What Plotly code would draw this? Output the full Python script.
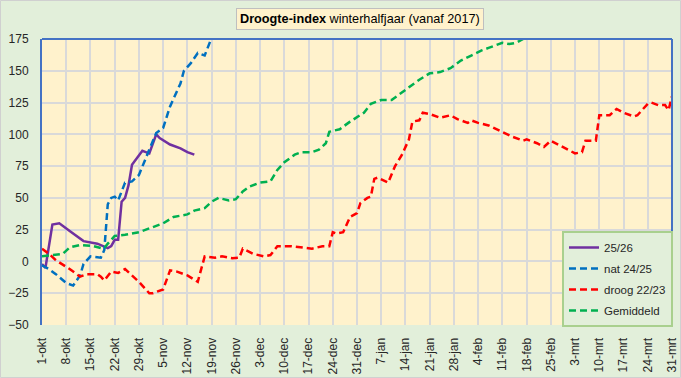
import datetime as dt
import plotly.graph_objects as go

# ---------------- data (day offset from 1 October, value) ----------------
BASE = dt.date(2023, 10, 1)  # leap-year season (29 Feb) so ticks fall on 3-mrt etc.

purple_days = [0, 1, 3, 5, 8, 12, 16, 18, 19, 20, 21, 22, 23, 24, 25, 26, 28, 29, 30, 31, 33, 34, 37, 40, 42, 44]
purple_vals = [-2, -5, 29, 30, 24, 16, 14, 12, 10.5, 12, 17, 17, 47, 50, 60, 76, 84, 87, 86, 85, 100, 97, 92, 89, 86, 84]

blue_days = [0, 2, 4, 7, 9, 11, 12, 14, 17, 18, 19, 20, 21, 22, 24, 26, 28, 30, 31, 33, 35, 37, 38, 40, 41, 43, 45, 47, 49, 50]
blue_vals = [-3, -6, -10, -17, -19, -11, -2, 4, 3, 9, 45, 50, 51, 48, 62, 63, 68, 82, 88, 101, 105, 122, 128, 140, 150, 156, 164, 162, 176, 185]

red_days = [0, 2, 4, 8, 11, 13, 16, 17, 18, 20, 22, 24, 28, 31, 32, 35, 37, 39, 42, 45, 47, 50, 52, 55, 57, 58,
            61, 64, 66, 68, 72, 75, 78, 81, 83, 84, 85, 87, 89, 91, 92, 94, 95, 96, 97, 100, 102, 104, 106, 107,
            109, 110, 112, 115, 118, 120, 123, 124, 126, 129, 133, 136, 139, 140, 143, 145, 147, 149, 152, 154,
            156, 157, 160, 161, 164, 166, 168, 171, 172, 175, 176, 178, 180, 181, 182]
red_vals = [10, 6, 1, -6, -12, -10, -10, -12, -15, -8, -9, -6, -16, -25, -25, -22, -7, -8, -11, -16, 4, 3, 4, 2.5, 3, 10,
            6, 4, 5, 12, 12, 11, 10, 12, 12, 23, 22, 23, 35, 38, 46, 50, 51, 65, 66, 62, 75, 84, 96, 110,
            111, 117, 116, 113, 115, 112, 109, 111, 109, 107, 102, 98, 95, 96, 93, 90, 95, 92, 88, 85,
            86, 95, 95, 115, 115, 120, 117, 114, 115, 124, 125, 123, 123, 119, 130]

green_days = [0, 3, 6, 8, 11, 15, 17, 18, 19, 21, 24, 28, 32, 35, 38, 42, 44, 47, 49, 51, 54, 56, 58, 60, 63, 66,
              68, 70, 73, 75, 78, 80, 82, 83, 86, 89, 93, 95, 98, 101, 103, 106, 109, 112, 115, 118, 121, 124,
              127, 129, 133, 135, 137, 139, 141]
green_vals = [4, 5, 6, 11, 13, 12, 10.5, 10.5, 14, 20, 21, 23, 27, 30, 35, 37, 40, 42, 47, 50, 48, 49, 55, 59, 62, 63,
              72, 78, 84, 86, 86, 88, 93, 102, 104, 110, 117, 124, 127, 127, 131, 137, 143, 148, 149, 152, 158, 162,
              166, 168, 172, 171, 172, 175, 178]

tick_labels = ["1-okt", "8-okt", "15-okt", "22-okt", "29-okt", "5-nov", "12-nov", "19-nov", "26-nov",
               "3-dec", "10-dec", "17-dec", "24-dec", "31-dec", "7-jan", "14-jan", "21-jan", "28-jan",
               "4-feb", "11-feb", "18-feb", "25-feb", "3-mrt", "10-mrt", "17-mrt", "24-mrt", "31-mrt"]

series = [
    ("25/26", purple_days, purple_vals, "#7030A0", "solid"),
    ("nat 24/25", blue_days, blue_vals, "#0070C0", "7px,4px"),
    ("droog 22/23", red_days, red_vals, "#FF0000", "7px,4px"),
    ("Gemiddeld", green_days, green_vals, "#00B050", "7px,4px"),
]


def to_dates(days):
    return [BASE + dt.timedelta(days=d) for d in days]


fig = go.Figure()
for i, (name, d, v, col, dash) in enumerate(series):
    fig.add_trace(go.Scatter(x=to_dates(d), y=v, name=name, mode="lines",
                             legendgroup=str(i),
                             line=dict(color=col, width=2.5, dash=dash)))

tick_vals = [BASE + dt.timedelta(days=7 * k) for k in range(len(tick_labels))]

W, H = 681, 378
ML, MR, MT, MB = 42, 9, 39, 53
pw, ph = W - ML - MR, H - MT - MB

font = "Liberation Sans, Arial, sans-serif"

fig.update_layout(
    width=W, height=H,
    margin=dict(l=ML, r=MR, t=MT, b=MB, autoexpand=False),
    paper_bgcolor="#E2EFDA",
    plot_bgcolor="#FFF2CC",
    font=dict(family=font, size=12, color="#262626"),
    showlegend=True,
    legend=dict(x=(562 - ML) / pw, y=(H - MB - 231) / ph, xanchor="left", yanchor="top",
                bgcolor="#E2EFDA", bordercolor="#A9D08E", borderwidth=2,
                font=dict(size=11.5, color="#262626"), itemwidth=30, tracegroupgap=2),
    xaxis=dict(type="date", automargin=False,
               range=[BASE - dt.timedelta(hours=2), BASE + dt.timedelta(days=182, hours=8)],
               tickvals=tick_vals, ticktext=tick_labels, tickangle=-90,
               showgrid=True, gridcolor="#D9D9D9", gridwidth=1.5,
               showline=False, zeroline=False, ticks="outside", ticklen=7, tickcolor="rgba(0,0,0,0)",
               tickfont=dict(size=12, color="#262626")),
    yaxis=dict(range=[-50, 175], dtick=25, tick0=0, automargin=False,
               showgrid=True, gridcolor="#D9D9D9", gridwidth=1.5,
               zeroline=False, showline=True, linecolor="#4472C4", linewidth=2,
               ticks="outside", ticklen=9, tickcolor="rgba(0,0,0,0)",
               tickfont=dict(size=12, color="#262626")),
    annotations=[dict(
        text="<b>Droogte-index</b> winterhalfjaar (vanaf 2017)",
        xref="paper", yref="paper", x=(360 - ML) / pw, y=1 + (MT - 19) / ph,
        xanchor="center", yanchor="middle", showarrow=False,
        font=dict(size=12.7, color="#000000", family=font),
        bgcolor="#FFF2CC", bordercolor="#BFBFBF", borderwidth=1, borderpad=3)],
    shapes=[
        dict(type="line", xref="paper", yref="paper", x0=0, x1=1, y0=1, y1=1,
             line=dict(color="#4472C4", width=2)),
        dict(type="line", xref="paper", yref="paper", x0=1, x1=1, y0=0, y1=1,
             line=dict(color="#4472C4", width=2)),
        dict(type="rect", xref="paper", yref="paper",
             x0=-ML / pw + 0.5 / pw, x1=1 + (MR - 0.5) / pw,
             y0=-MB / ph + 0.5 / ph, y1=1 + (MT - 0.5) / ph,
             line=dict(color="#D0D0D0", width=1), layer="below"),
    ],
)

fig.write_html("out.html",
               config={"displayModeBar": False},
               post_script="document.body.style.margin='0';document.body.style.padding='0';"
                           "document.body.style.overflow='hidden';")
